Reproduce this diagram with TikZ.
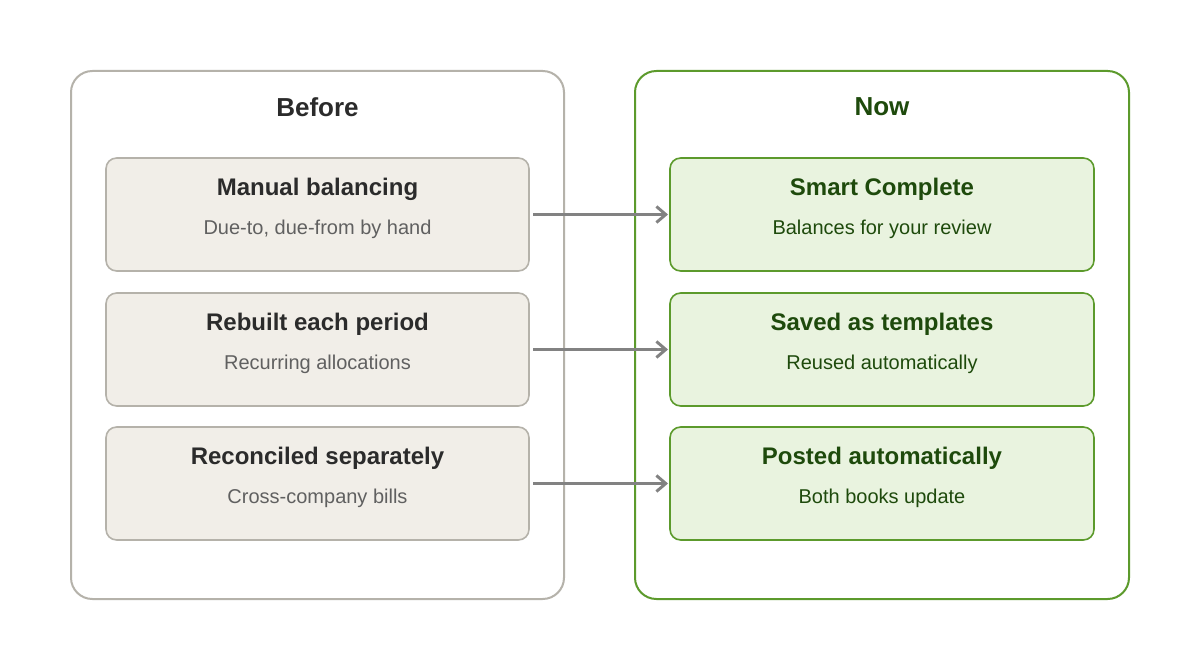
\documentclass[tikz,border=0pt]{standalone}
\usepackage{fontspec}
\setmainfont{Liberation Sans}
\usetikzlibrary{arrows.meta}
\definecolor{gb}{HTML}{B5B2AA}\definecolor{gf}{HTML}{F1EEE8}
\definecolor{gt}{HTML}{2B2B2B}\definecolor{gs}{HTML}{606060}
\definecolor{nb}{HTML}{5C9A2C}\definecolor{nf}{HTML}{E9F3DF}
\definecolor{nt}{HTML}{1E4A0C}\definecolor{ar}{HTML}{828282}
\begin{document}
\begin{tikzpicture}[x=0.75pt,y=-0.75pt,
 panel/.style={draw=#1,line width=1.5pt,rounded corners=16pt,fill=white},
 item/.style={rounded corners=8pt,line width=1.2pt},
 hd/.style={font=\fontsize{19.5}{22}\selectfont\bfseries},
 tt/.style={font=\fontsize{18}{21}\selectfont\bfseries},
 st/.style={font=\fontsize{15}{18}\selectfont},
 arr/.style={draw=ar,line width=2.2pt,-{Straight Barb[length=7pt,width=12pt]}}]
\useasboundingbox (0,0) rectangle (1200,670);
\fill[white] (0,0) rectangle (1200,670);
\draw[panel=gb] (71,71) rectangle (564,599);
\draw[panel=nb] (635,71) rectangle (1129,599);
\node[hd,text=gt] (bh) at (317.5,107) {Before};
\node[hd,text=nt] (nh) at (882,107) {Now};
\foreach \i/\y/\a/\b/\c/\d in {1/158/Manual balancing/{Due-to, due-from by hand}/Smart Complete/Balances for your review,
 2/293/Rebuilt each period/Recurring allocations/Saved as templates/Reused automatically,
 3/427/Reconciled separately/Cross-company bills/Posted automatically/Both books update}{
 \draw[item,draw=gb,fill=gf] (106,\y) rectangle (529,\y+113);
 \draw[item,draw=nb,fill=nf] (670,\y) rectangle (1094,\y+113);
 \node[tt,text=gt] (bt\i) at (317.5,\y+31) {\a};
 \node[st,text=gs] (bs\i) at (317.5,\y+71) {\b};
 \node[tt,text=nt] (nt\i) at (882,\y+31) {\c};
 \node[st,text=nt] (ns\i) at (882,\y+71) {\d};
 \coordinate (l\i) at (533,\y+56.5);
 \coordinate (r\i) at (668,\y+56.5);
 \draw[arr] (l\i) -- (r\i);
}
\end{tikzpicture}
\end{document}
